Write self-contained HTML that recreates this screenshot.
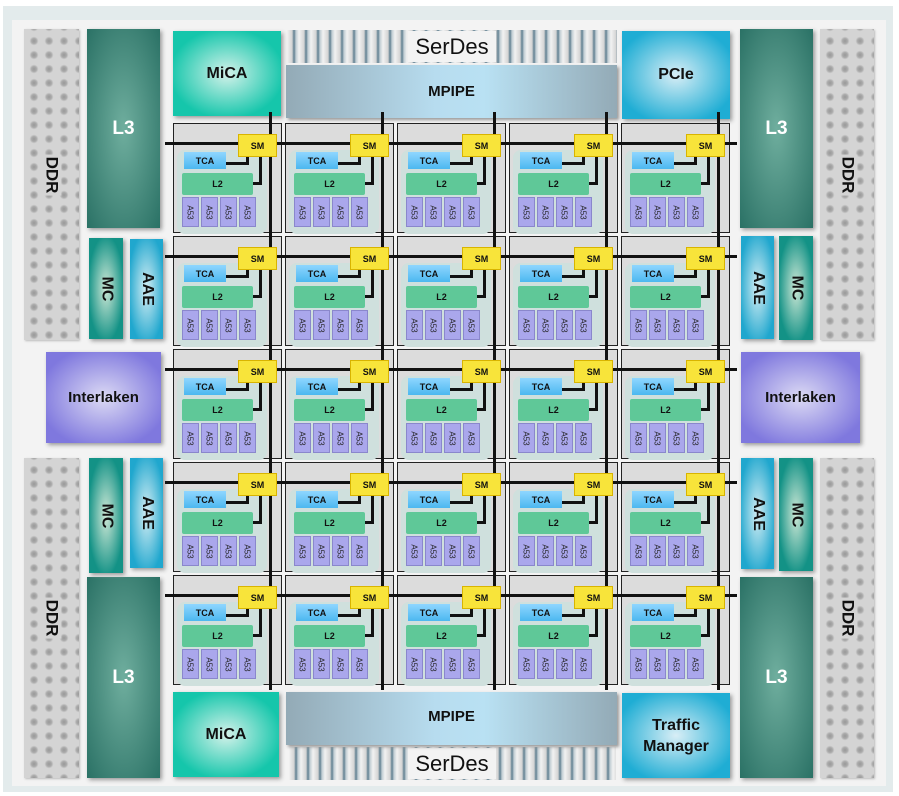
<!DOCTYPE html>
<html><head><meta charset="utf-8"><style>
*{margin:0;padding:0;box-sizing:border-box}
body{width:899px;height:796px;background:#fff;position:relative;overflow:hidden;font-family:"Liberation Sans",sans-serif;font-weight:bold}
div{position:absolute}
.c{display:flex;align-items:center;justify-content:center;text-align:center}
.frame{left:3px;top:6px;width:890px;height:786px;background:#e3ebec}
.inner{left:12px;top:20px;width:874px;height:766px;background:#f3f3f3}
.ddr{background-color:#d4d4d4;background-image:radial-gradient(circle at 7px 6px,#999 0,#aaa 2.5px,rgba(0,0,0,0) 4.5px);background-size:15px 14px;background-position:3px 6px;box-shadow:1px 1px 2px #bbb}
.ddr span{transform:rotate(90deg);font-size:17px;color:#111;display:block;background:#d4d4d4;padding:0 2px}
.l3{background:radial-gradient(ellipse at center,#6fae9e 0,#2a7165 100%);color:#fff;font-size:19px;box-shadow:2px 2px 4px #999}
.mc{background:radial-gradient(ellipse at center,#cfe8d6 0,#139286 75%);box-shadow:2px 2px 4px #999}
.aae{background:radial-gradient(ellipse at center,#d6eef4 0,#20a7ce 80%);box-shadow:2px 2px 4px #999}
.rot span{transform:rotate(90deg);display:block;font-size:16px;color:#111}
.ilk{background:radial-gradient(ellipse at center,#dcdaf4 0,#7f78de 80%);font-size:15px;color:#111;box-shadow:2px 2px 4px #999}
.mica{background:radial-gradient(ellipse at center,#d4f2ea 0,#15c6ab 75%);font-size:16px;color:#111;box-shadow:2px 2px 4px #999}
.pcie{background:radial-gradient(ellipse at center,#d8eef6 0,#1fadd4 80%);font-size:16px;color:#111;box-shadow:2px 2px 4px #999}
.mp{background:linear-gradient(90deg,#93aab6 0,#b7dcef 45%,#b9e1f3 60%,#93aab6 100%);font-size:15px;color:#111;box-shadow:2px 2px 3px #999}
.sd{background:repeating-linear-gradient(90deg,#f2f2f2 0,#d4d4d4 5px,#5f7f90 7px,#c2ced4 9px,#f2f2f2 12px);}
.sdl{background:#f3f3f3;font-weight:normal;font-size:22px;color:#111;padding:0 4px}
.t{width:109px;height:110px;background:#dcdcdc;border:1px solid #222}
.g{left:3px;top:26px;width:90px;height:84px;background:#cfe0dd;border-radius:8px}
.tca{left:10px;top:28px;width:42px;height:17px;background:linear-gradient(#8fd6ff,#4cb8f0);font-size:9px;color:#111}
.l2{left:8px;top:49px;width:71px;height:22px;background:#5fc898;font-size:9px;color:#111;border-radius:2px}
.a{top:73px;width:17px;height:30px;background:#aaa7ec;border:1px solid #8a87cc;font-size:8px;font-weight:normal;color:#222}
.a span{transform:rotate(90deg);display:block}
.k{background:#111}
.sm{z-index:5;width:39px;height:23px;background:#f8e43a;border:1px solid #d9b400;font-size:9px;color:#111}
.h{z-index:3;height:3px;left:165px;width:572px;background:#111}
.v{z-index:3;width:3px;top:112px;height:578px;background:#111}
</style></head><body>
<div class="frame"></div><div class="inner"></div>

<div class="ddr c" style="left:24px;top:29px;width:55px;height:311px;padding-bottom:20px"><span>DDR</span></div>
<div class="ddr c" style="left:24px;top:458px;width:55px;height:320px"><span>DDR</span></div>
<div class="ddr c" style="left:820px;top:29px;width:54px;height:311px;padding-bottom:20px"><span>DDR</span></div>
<div class="ddr c" style="left:820px;top:458px;width:54px;height:320px"><span>DDR</span></div>

<div class="l3 c" style="left:87px;top:29px;width:73px;height:199px">L3</div>
<div class="l3 c" style="left:87px;top:577px;width:73px;height:201px">L3</div>
<div class="l3 c" style="left:740px;top:29px;width:73px;height:199px">L3</div>
<div class="l3 c" style="left:740px;top:577px;width:73px;height:201px">L3</div>

<div class="mc rot c" style="left:89px;top:238px;width:34px;height:101px"><span>MC</span></div>
<div class="aae rot c" style="left:130px;top:239px;width:33px;height:100px"><span>AAE</span></div>
<div class="mc rot c" style="left:89px;top:458px;width:34px;height:115px"><span>MC</span></div>
<div class="aae rot c" style="left:130px;top:458px;width:33px;height:110px"><span>AAE</span></div>
<div class="aae rot c" style="left:741px;top:236px;width:33px;height:103px"><span>AAE</span></div>
<div class="mc rot c" style="left:779px;top:236px;width:34px;height:104px"><span>MC</span></div>
<div class="aae rot c" style="left:741px;top:458px;width:33px;height:111px"><span>AAE</span></div>
<div class="mc rot c" style="left:779px;top:458px;width:34px;height:113px"><span>MC</span></div>

<div class="ilk c" style="left:46px;top:352px;width:115px;height:91px">Interlaken</div>
<div class="ilk c" style="left:741px;top:352px;width:119px;height:91px">Interlaken</div>

<div class="mica c" style="left:173px;top:31px;width:108px;height:85px">MiCA</div>
<div class="mica c" style="left:173px;top:692px;width:106px;height:85px">MiCA</div>
<div class="pcie c" style="left:622px;top:31px;width:108px;height:88px">PCIe</div>
<div class="pcie c" style="left:622px;top:693px;width:108px;height:85px;line-height:21px">Traffic<br>Manager</div>

<div class="sd" style="left:287px;top:30px;width:330px;height:33px"></div>
<div class="sdl c" style="left:408px;top:31px;width:88px;height:31px">SerDes</div>
<div class="mp c" style="left:286px;top:65px;width:331px;height:53px">MPIPE</div>
<div class="sd" style="left:289px;top:747px;width:327px;height:33px"></div>
<div class="sdl c" style="left:408px;top:748px;width:88px;height:31px">SerDes</div>
<div class="mp c" style="left:286px;top:692px;width:331px;height:53px;padding-bottom:4px">MPIPE</div>

<div class="h" style="top:142px"></div><div class="h" style="top:255px"></div><div class="h" style="top:368px"></div><div class="h" style="top:481px"></div><div class="h" style="top:594px"></div>
<div class="v" style="left:269px"></div><div class="v" style="left:381px"></div><div class="v" style="left:493px"></div><div class="v" style="left:605px"></div><div class="v" style="left:717px"></div>

<div class="t" style="left:173px;top:123px"><div class="g"></div><div class="tca c">TCA</div><div class="l2 c">L2</div><div class="a c" style="left:8px"><span>A53</span></div><div class="a c" style="left:27px"><span>A53</span></div><div class="a c" style="left:46px"><span>A53</span></div><div class="a c" style="left:65px"><span>A53</span></div><div class="k" style="left:52px;top:38px;width:22px;height:3px"></div><div class="k" style="left:72px;top:33px;width:3px;height:8px"></div><div class="k" style="left:79px;top:58px;width:9px;height:3px"></div><div class="k" style="left:85px;top:33px;width:3px;height:28px"></div><div class="sm c" style="left:64px;top:10px">SM</div></div>
<div class="t" style="left:285px;top:123px"><div class="g"></div><div class="tca c">TCA</div><div class="l2 c">L2</div><div class="a c" style="left:8px"><span>A53</span></div><div class="a c" style="left:27px"><span>A53</span></div><div class="a c" style="left:46px"><span>A53</span></div><div class="a c" style="left:65px"><span>A53</span></div><div class="k" style="left:52px;top:38px;width:22px;height:3px"></div><div class="k" style="left:72px;top:33px;width:3px;height:8px"></div><div class="k" style="left:79px;top:58px;width:9px;height:3px"></div><div class="k" style="left:85px;top:33px;width:3px;height:28px"></div><div class="sm c" style="left:64px;top:10px">SM</div></div>
<div class="t" style="left:397px;top:123px"><div class="g"></div><div class="tca c">TCA</div><div class="l2 c">L2</div><div class="a c" style="left:8px"><span>A53</span></div><div class="a c" style="left:27px"><span>A53</span></div><div class="a c" style="left:46px"><span>A53</span></div><div class="a c" style="left:65px"><span>A53</span></div><div class="k" style="left:52px;top:38px;width:22px;height:3px"></div><div class="k" style="left:72px;top:33px;width:3px;height:8px"></div><div class="k" style="left:79px;top:58px;width:9px;height:3px"></div><div class="k" style="left:85px;top:33px;width:3px;height:28px"></div><div class="sm c" style="left:64px;top:10px">SM</div></div>
<div class="t" style="left:509px;top:123px"><div class="g"></div><div class="tca c">TCA</div><div class="l2 c">L2</div><div class="a c" style="left:8px"><span>A53</span></div><div class="a c" style="left:27px"><span>A53</span></div><div class="a c" style="left:46px"><span>A53</span></div><div class="a c" style="left:65px"><span>A53</span></div><div class="k" style="left:52px;top:38px;width:22px;height:3px"></div><div class="k" style="left:72px;top:33px;width:3px;height:8px"></div><div class="k" style="left:79px;top:58px;width:9px;height:3px"></div><div class="k" style="left:85px;top:33px;width:3px;height:28px"></div><div class="sm c" style="left:64px;top:10px">SM</div></div>
<div class="t" style="left:621px;top:123px"><div class="g"></div><div class="tca c">TCA</div><div class="l2 c">L2</div><div class="a c" style="left:8px"><span>A53</span></div><div class="a c" style="left:27px"><span>A53</span></div><div class="a c" style="left:46px"><span>A53</span></div><div class="a c" style="left:65px"><span>A53</span></div><div class="k" style="left:52px;top:38px;width:22px;height:3px"></div><div class="k" style="left:72px;top:33px;width:3px;height:8px"></div><div class="k" style="left:79px;top:58px;width:9px;height:3px"></div><div class="k" style="left:85px;top:33px;width:3px;height:28px"></div><div class="sm c" style="left:64px;top:10px">SM</div></div>
<div class="t" style="left:173px;top:236px"><div class="g"></div><div class="tca c">TCA</div><div class="l2 c">L2</div><div class="a c" style="left:8px"><span>A53</span></div><div class="a c" style="left:27px"><span>A53</span></div><div class="a c" style="left:46px"><span>A53</span></div><div class="a c" style="left:65px"><span>A53</span></div><div class="k" style="left:52px;top:38px;width:22px;height:3px"></div><div class="k" style="left:72px;top:33px;width:3px;height:8px"></div><div class="k" style="left:79px;top:58px;width:9px;height:3px"></div><div class="k" style="left:85px;top:33px;width:3px;height:28px"></div><div class="sm c" style="left:64px;top:10px">SM</div></div>
<div class="t" style="left:285px;top:236px"><div class="g"></div><div class="tca c">TCA</div><div class="l2 c">L2</div><div class="a c" style="left:8px"><span>A53</span></div><div class="a c" style="left:27px"><span>A53</span></div><div class="a c" style="left:46px"><span>A53</span></div><div class="a c" style="left:65px"><span>A53</span></div><div class="k" style="left:52px;top:38px;width:22px;height:3px"></div><div class="k" style="left:72px;top:33px;width:3px;height:8px"></div><div class="k" style="left:79px;top:58px;width:9px;height:3px"></div><div class="k" style="left:85px;top:33px;width:3px;height:28px"></div><div class="sm c" style="left:64px;top:10px">SM</div></div>
<div class="t" style="left:397px;top:236px"><div class="g"></div><div class="tca c">TCA</div><div class="l2 c">L2</div><div class="a c" style="left:8px"><span>A53</span></div><div class="a c" style="left:27px"><span>A53</span></div><div class="a c" style="left:46px"><span>A53</span></div><div class="a c" style="left:65px"><span>A53</span></div><div class="k" style="left:52px;top:38px;width:22px;height:3px"></div><div class="k" style="left:72px;top:33px;width:3px;height:8px"></div><div class="k" style="left:79px;top:58px;width:9px;height:3px"></div><div class="k" style="left:85px;top:33px;width:3px;height:28px"></div><div class="sm c" style="left:64px;top:10px">SM</div></div>
<div class="t" style="left:509px;top:236px"><div class="g"></div><div class="tca c">TCA</div><div class="l2 c">L2</div><div class="a c" style="left:8px"><span>A53</span></div><div class="a c" style="left:27px"><span>A53</span></div><div class="a c" style="left:46px"><span>A53</span></div><div class="a c" style="left:65px"><span>A53</span></div><div class="k" style="left:52px;top:38px;width:22px;height:3px"></div><div class="k" style="left:72px;top:33px;width:3px;height:8px"></div><div class="k" style="left:79px;top:58px;width:9px;height:3px"></div><div class="k" style="left:85px;top:33px;width:3px;height:28px"></div><div class="sm c" style="left:64px;top:10px">SM</div></div>
<div class="t" style="left:621px;top:236px"><div class="g"></div><div class="tca c">TCA</div><div class="l2 c">L2</div><div class="a c" style="left:8px"><span>A53</span></div><div class="a c" style="left:27px"><span>A53</span></div><div class="a c" style="left:46px"><span>A53</span></div><div class="a c" style="left:65px"><span>A53</span></div><div class="k" style="left:52px;top:38px;width:22px;height:3px"></div><div class="k" style="left:72px;top:33px;width:3px;height:8px"></div><div class="k" style="left:79px;top:58px;width:9px;height:3px"></div><div class="k" style="left:85px;top:33px;width:3px;height:28px"></div><div class="sm c" style="left:64px;top:10px">SM</div></div>
<div class="t" style="left:173px;top:349px"><div class="g"></div><div class="tca c">TCA</div><div class="l2 c">L2</div><div class="a c" style="left:8px"><span>A53</span></div><div class="a c" style="left:27px"><span>A53</span></div><div class="a c" style="left:46px"><span>A53</span></div><div class="a c" style="left:65px"><span>A53</span></div><div class="k" style="left:52px;top:38px;width:22px;height:3px"></div><div class="k" style="left:72px;top:33px;width:3px;height:8px"></div><div class="k" style="left:79px;top:58px;width:9px;height:3px"></div><div class="k" style="left:85px;top:33px;width:3px;height:28px"></div><div class="sm c" style="left:64px;top:10px">SM</div></div>
<div class="t" style="left:285px;top:349px"><div class="g"></div><div class="tca c">TCA</div><div class="l2 c">L2</div><div class="a c" style="left:8px"><span>A53</span></div><div class="a c" style="left:27px"><span>A53</span></div><div class="a c" style="left:46px"><span>A53</span></div><div class="a c" style="left:65px"><span>A53</span></div><div class="k" style="left:52px;top:38px;width:22px;height:3px"></div><div class="k" style="left:72px;top:33px;width:3px;height:8px"></div><div class="k" style="left:79px;top:58px;width:9px;height:3px"></div><div class="k" style="left:85px;top:33px;width:3px;height:28px"></div><div class="sm c" style="left:64px;top:10px">SM</div></div>
<div class="t" style="left:397px;top:349px"><div class="g"></div><div class="tca c">TCA</div><div class="l2 c">L2</div><div class="a c" style="left:8px"><span>A53</span></div><div class="a c" style="left:27px"><span>A53</span></div><div class="a c" style="left:46px"><span>A53</span></div><div class="a c" style="left:65px"><span>A53</span></div><div class="k" style="left:52px;top:38px;width:22px;height:3px"></div><div class="k" style="left:72px;top:33px;width:3px;height:8px"></div><div class="k" style="left:79px;top:58px;width:9px;height:3px"></div><div class="k" style="left:85px;top:33px;width:3px;height:28px"></div><div class="sm c" style="left:64px;top:10px">SM</div></div>
<div class="t" style="left:509px;top:349px"><div class="g"></div><div class="tca c">TCA</div><div class="l2 c">L2</div><div class="a c" style="left:8px"><span>A53</span></div><div class="a c" style="left:27px"><span>A53</span></div><div class="a c" style="left:46px"><span>A53</span></div><div class="a c" style="left:65px"><span>A53</span></div><div class="k" style="left:52px;top:38px;width:22px;height:3px"></div><div class="k" style="left:72px;top:33px;width:3px;height:8px"></div><div class="k" style="left:79px;top:58px;width:9px;height:3px"></div><div class="k" style="left:85px;top:33px;width:3px;height:28px"></div><div class="sm c" style="left:64px;top:10px">SM</div></div>
<div class="t" style="left:621px;top:349px"><div class="g"></div><div class="tca c">TCA</div><div class="l2 c">L2</div><div class="a c" style="left:8px"><span>A53</span></div><div class="a c" style="left:27px"><span>A53</span></div><div class="a c" style="left:46px"><span>A53</span></div><div class="a c" style="left:65px"><span>A53</span></div><div class="k" style="left:52px;top:38px;width:22px;height:3px"></div><div class="k" style="left:72px;top:33px;width:3px;height:8px"></div><div class="k" style="left:79px;top:58px;width:9px;height:3px"></div><div class="k" style="left:85px;top:33px;width:3px;height:28px"></div><div class="sm c" style="left:64px;top:10px">SM</div></div>
<div class="t" style="left:173px;top:462px"><div class="g"></div><div class="tca c">TCA</div><div class="l2 c">L2</div><div class="a c" style="left:8px"><span>A53</span></div><div class="a c" style="left:27px"><span>A53</span></div><div class="a c" style="left:46px"><span>A53</span></div><div class="a c" style="left:65px"><span>A53</span></div><div class="k" style="left:52px;top:38px;width:22px;height:3px"></div><div class="k" style="left:72px;top:33px;width:3px;height:8px"></div><div class="k" style="left:79px;top:58px;width:9px;height:3px"></div><div class="k" style="left:85px;top:33px;width:3px;height:28px"></div><div class="sm c" style="left:64px;top:10px">SM</div></div>
<div class="t" style="left:285px;top:462px"><div class="g"></div><div class="tca c">TCA</div><div class="l2 c">L2</div><div class="a c" style="left:8px"><span>A53</span></div><div class="a c" style="left:27px"><span>A53</span></div><div class="a c" style="left:46px"><span>A53</span></div><div class="a c" style="left:65px"><span>A53</span></div><div class="k" style="left:52px;top:38px;width:22px;height:3px"></div><div class="k" style="left:72px;top:33px;width:3px;height:8px"></div><div class="k" style="left:79px;top:58px;width:9px;height:3px"></div><div class="k" style="left:85px;top:33px;width:3px;height:28px"></div><div class="sm c" style="left:64px;top:10px">SM</div></div>
<div class="t" style="left:397px;top:462px"><div class="g"></div><div class="tca c">TCA</div><div class="l2 c">L2</div><div class="a c" style="left:8px"><span>A53</span></div><div class="a c" style="left:27px"><span>A53</span></div><div class="a c" style="left:46px"><span>A53</span></div><div class="a c" style="left:65px"><span>A53</span></div><div class="k" style="left:52px;top:38px;width:22px;height:3px"></div><div class="k" style="left:72px;top:33px;width:3px;height:8px"></div><div class="k" style="left:79px;top:58px;width:9px;height:3px"></div><div class="k" style="left:85px;top:33px;width:3px;height:28px"></div><div class="sm c" style="left:64px;top:10px">SM</div></div>
<div class="t" style="left:509px;top:462px"><div class="g"></div><div class="tca c">TCA</div><div class="l2 c">L2</div><div class="a c" style="left:8px"><span>A53</span></div><div class="a c" style="left:27px"><span>A53</span></div><div class="a c" style="left:46px"><span>A53</span></div><div class="a c" style="left:65px"><span>A53</span></div><div class="k" style="left:52px;top:38px;width:22px;height:3px"></div><div class="k" style="left:72px;top:33px;width:3px;height:8px"></div><div class="k" style="left:79px;top:58px;width:9px;height:3px"></div><div class="k" style="left:85px;top:33px;width:3px;height:28px"></div><div class="sm c" style="left:64px;top:10px">SM</div></div>
<div class="t" style="left:621px;top:462px"><div class="g"></div><div class="tca c">TCA</div><div class="l2 c">L2</div><div class="a c" style="left:8px"><span>A53</span></div><div class="a c" style="left:27px"><span>A53</span></div><div class="a c" style="left:46px"><span>A53</span></div><div class="a c" style="left:65px"><span>A53</span></div><div class="k" style="left:52px;top:38px;width:22px;height:3px"></div><div class="k" style="left:72px;top:33px;width:3px;height:8px"></div><div class="k" style="left:79px;top:58px;width:9px;height:3px"></div><div class="k" style="left:85px;top:33px;width:3px;height:28px"></div><div class="sm c" style="left:64px;top:10px">SM</div></div>
<div class="t" style="left:173px;top:575px"><div class="g"></div><div class="tca c">TCA</div><div class="l2 c">L2</div><div class="a c" style="left:8px"><span>A53</span></div><div class="a c" style="left:27px"><span>A53</span></div><div class="a c" style="left:46px"><span>A53</span></div><div class="a c" style="left:65px"><span>A53</span></div><div class="k" style="left:52px;top:38px;width:22px;height:3px"></div><div class="k" style="left:72px;top:33px;width:3px;height:8px"></div><div class="k" style="left:79px;top:58px;width:9px;height:3px"></div><div class="k" style="left:85px;top:33px;width:3px;height:28px"></div><div class="sm c" style="left:64px;top:10px">SM</div></div>
<div class="t" style="left:285px;top:575px"><div class="g"></div><div class="tca c">TCA</div><div class="l2 c">L2</div><div class="a c" style="left:8px"><span>A53</span></div><div class="a c" style="left:27px"><span>A53</span></div><div class="a c" style="left:46px"><span>A53</span></div><div class="a c" style="left:65px"><span>A53</span></div><div class="k" style="left:52px;top:38px;width:22px;height:3px"></div><div class="k" style="left:72px;top:33px;width:3px;height:8px"></div><div class="k" style="left:79px;top:58px;width:9px;height:3px"></div><div class="k" style="left:85px;top:33px;width:3px;height:28px"></div><div class="sm c" style="left:64px;top:10px">SM</div></div>
<div class="t" style="left:397px;top:575px"><div class="g"></div><div class="tca c">TCA</div><div class="l2 c">L2</div><div class="a c" style="left:8px"><span>A53</span></div><div class="a c" style="left:27px"><span>A53</span></div><div class="a c" style="left:46px"><span>A53</span></div><div class="a c" style="left:65px"><span>A53</span></div><div class="k" style="left:52px;top:38px;width:22px;height:3px"></div><div class="k" style="left:72px;top:33px;width:3px;height:8px"></div><div class="k" style="left:79px;top:58px;width:9px;height:3px"></div><div class="k" style="left:85px;top:33px;width:3px;height:28px"></div><div class="sm c" style="left:64px;top:10px">SM</div></div>
<div class="t" style="left:509px;top:575px"><div class="g"></div><div class="tca c">TCA</div><div class="l2 c">L2</div><div class="a c" style="left:8px"><span>A53</span></div><div class="a c" style="left:27px"><span>A53</span></div><div class="a c" style="left:46px"><span>A53</span></div><div class="a c" style="left:65px"><span>A53</span></div><div class="k" style="left:52px;top:38px;width:22px;height:3px"></div><div class="k" style="left:72px;top:33px;width:3px;height:8px"></div><div class="k" style="left:79px;top:58px;width:9px;height:3px"></div><div class="k" style="left:85px;top:33px;width:3px;height:28px"></div><div class="sm c" style="left:64px;top:10px">SM</div></div>
<div class="t" style="left:621px;top:575px"><div class="g"></div><div class="tca c">TCA</div><div class="l2 c">L2</div><div class="a c" style="left:8px"><span>A53</span></div><div class="a c" style="left:27px"><span>A53</span></div><div class="a c" style="left:46px"><span>A53</span></div><div class="a c" style="left:65px"><span>A53</span></div><div class="k" style="left:52px;top:38px;width:22px;height:3px"></div><div class="k" style="left:72px;top:33px;width:3px;height:8px"></div><div class="k" style="left:79px;top:58px;width:9px;height:3px"></div><div class="k" style="left:85px;top:33px;width:3px;height:28px"></div><div class="sm c" style="left:64px;top:10px">SM</div></div>
</body></html>
